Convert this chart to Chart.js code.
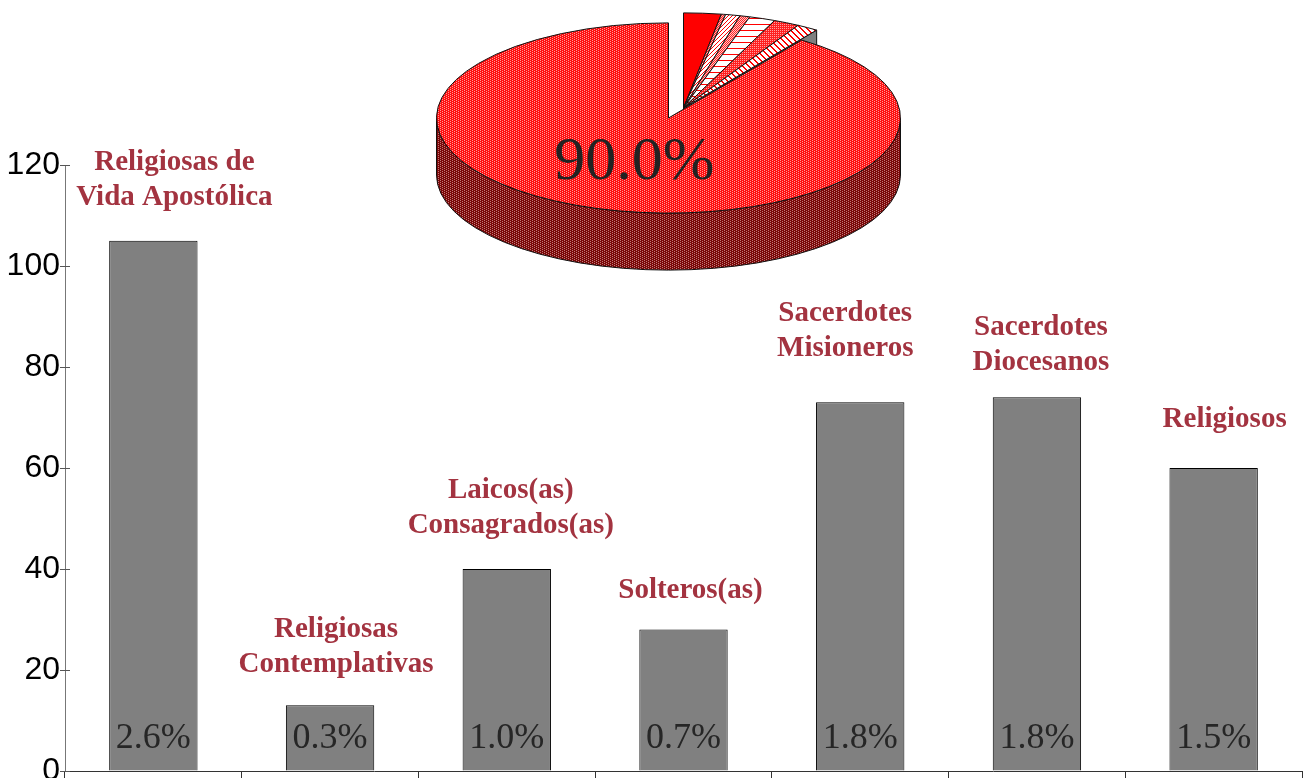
<!DOCTYPE html>
<html><head><meta charset="utf-8">
<script src="https://cdn.jsdelivr.net/npm/chart.js@4.4.1/dist/chart.umd.min.js"></script>
<style>
html,body{margin:0;padding:0;background:#fff;overflow:hidden}
#wrap{position:relative;width:1306px;height:778px}
#bars{position:absolute;left:0;top:0}
#pie{position:absolute;left:436px;top:0;pointer-events:none}
</style></head><body>
<div id="wrap"><canvas id="bars" width="1306" height="778"></canvas><canvas id="pie" width="465" height="465"></canvas></div>
<script>
// ---- data ----
const categories = [
  ['Religiosas de', 'Vida Apostólica'],
  ['Religiosas', 'Contemplativas'],
  ['Laicos(as)', 'Consagrados(as)'],
  ['Solteros(as)'],
  ['Sacerdotes', 'Misioneros'],
  ['Sacerdotes', 'Diocesanos'],
  ['Religiosos']
];
const counts = [105, 13, 40, 28, 73, 74, 60];
const percents = [2.6, 0.3, 1.0, 0.7, 1.8, 1.8, 1.5];
const otherPercent = 90.0;
const yTicks = [0, 20, 40, 60, 80, 100, 120];

// ---- layout / styles (label nudges relative to each bar, in px) ----
const labelNudgeX = [21, 6, 4, 7, -15, 4, 11];
const labelNudgeY = [-1, 2, -1, 3, -11, 8, -6];
const LABEL_COLOR = '#A33340';
const SERIF = '"Liberation Serif", "Times New Roman", serif';
const SANS = '"Liberation Sans", Arial, sans-serif';

function makePattern(w, h, draw) {
  const c = document.createElement('canvas');
  c.width = w; c.height = h;
  const g = c.getContext('2d');
  draw(g);
  return g.createPattern(c, 'repeat');
}
function px(g, col, pts) { g.fillStyle = col; pts.forEach(p => g.fillRect(p[0], p[1], 1, 1)); }

const patMainTop = makePattern(4, 4, g => {
  g.fillStyle = '#FF1010'; g.fillRect(0, 0, 4, 4);
  px(g, '#FF9A9A', [[0,0],[2,1],[0,2],[2,3]]);
});
const patMainSide = makePattern(4, 4, g => {
  g.fillStyle = '#7A0808'; g.fillRect(0, 0, 4, 4);
  px(g, '#C07878', [[0,0],[2,1],[0,2],[2,3]]);
});
const slicePatterns = [
  '#FF0000',
  makePattern(2, 2, g => { g.fillStyle = '#FFB0B0'; g.fillRect(0,0,2,2); px(g, '#FF2020', [[0,0],[1,1]]); }),
  makePattern(4, 4, g => { g.fillStyle = '#fff'; g.fillRect(0,0,4,4); px(g, '#FF0000', [[0,3],[1,2],[2,1],[3,0]]); }),
  makePattern(4, 4, g => { g.fillStyle = '#FFC8C8'; g.fillRect(0,0,4,4); px(g, '#FF2020', [[0,0],[1,1],[2,0],[3,1],[0,2],[2,2],[1,3],[3,3]]); }),
  makePattern(1, 6, g => { g.fillStyle = '#fff'; g.fillRect(0,0,1,6); px(g, '#FF0000', [[0,0]]); }),
  makePattern(2, 2, g => { g.fillStyle = '#FF2020'; g.fillRect(0,0,2,2); px(g, '#FFA0A0', [[0,0]]); }),
  makePattern(6, 6, g => { g.fillStyle = '#fff'; g.fillRect(0,0,6,6);
    px(g, '#FF0000', [[0,0],[1,0],[1,1],[2,1],[2,2],[3,2],[3,3],[4,3],[4,4],[5,4],[5,5],[0,5]]); })
];

// ---- bar chart ----
const barDecor = {
  id: 'barDecor',
  afterDraw(chart) {
    const ctx = chart.ctx;
    const ys = chart.scales.y;
    const meta = chart.getDatasetMeta(0);
    ctx.save();
    // inner halves of y tick marks
    ctx.strokeStyle = '#555'; ctx.lineWidth = 1;
    ys.ticks.forEach(t => {
      const y = Math.round(ys.getPixelForValue(t.value)) + 0.5;
      ctx.beginPath(); ctx.moveTo(chart.chartArea.left, y); ctx.lineTo(chart.chartArea.left + 5, y); ctx.stroke();
    });
    const base = ys.getPixelForValue(0);
    meta.data.forEach((bar, i) => {
      // percent inside bar
      ctx.font = '36px ' + SERIF;
      ctx.fillStyle = '#262626';
      ctx.textAlign = 'center'; ctx.textBaseline = 'alphabetic';
      ctx.fillText(percents[i].toFixed(1) + '%', bar.x, base - 23);
      // category label above bar
      const lines = categories[i];
      ctx.font = 'bold 29px ' + SERIF;
      ctx.fillStyle = LABEL_COLOR;
      lines.forEach((ln, k) => {
        const y = bar.y - 35 + labelNudgeY[i] - (lines.length - 1 - k) * 35;
        ctx.fillText(ln, bar.x + labelNudgeX[i], y);
      });
    });
    ctx.restore();
  }
};

new Chart(document.getElementById('bars'), {
  type: 'bar',
  data: {
    labels: categories,
    datasets: [{
      data: counts,
      backgroundColor: '#808080',
      borderColor: '#000',
      borderWidth: 1,
      borderSkipped: 'bottom',
      categoryPercentage: 1,
      barPercentage: 0.5
    }]
  },
  options: {
    responsive: false,
    animation: false,
    layout: { padding: { top: 165, right: 4, left: 0, bottom: 0 } },
    plugins: { legend: { display: false }, tooltip: { enabled: false } },
    scales: {
      x: {
        ticks: { display: false },
        grid: { drawOnChartArea: false, offset: true, tickLength: 7, color: '#333' },
        border: { color: '#333', width: 1 },
        afterFit(s) { s.height = 7; s.paddingLeft = 0; s.paddingRight = 0; }
      },
      y: {
        min: yTicks[0], max: yTicks[yTicks.length - 1],
        ticks: { stepSize: yTicks[1] - yTicks[0], font: { family: SANS, size: 32 }, color: '#000', padding: 0 },
        grid: { drawOnChartArea: false, tickLength: 5, color: '#555' },
        border: { color: '#777', width: 1 },
        afterFit(s) { s.width = 65; s.paddingTop = 0; s.paddingBottom = 0; }
      }
    }
  },
  plugins: [barDecor]
});

// ---- 3D pie ----
const K = 0.41, DEPTH = 57, TOP_CY = 118, EXPLODE = [15, -10];

function wedgePath(ctx, x, y, R, ry, s, e) {
  ctx.beginPath(); ctx.moveTo(x, y); ctx.ellipse(x, y, R, ry, 0, s, e, false); ctx.closePath();
}
function rimPath(ctx, x, y, R, ry, s, e) {
  for (let k = -1; k <= 1; k++) {
    const lo = Math.max(s, k * 2 * Math.PI), hi = Math.min(e, k * 2 * Math.PI + Math.PI);
    if (hi <= lo) continue;
    ctx.beginPath();
    ctx.moveTo(x + R * Math.cos(lo), y + ry * Math.sin(lo));
    ctx.ellipse(x, y, R, ry, 0, lo, hi, false);
    ctx.lineTo(x + R * Math.cos(hi), y + ry * Math.sin(hi) + DEPTH);
    ctx.ellipse(x, y + DEPTH, R, ry, 0, hi, lo, true);
    ctx.closePath();
    return true;
  }
  return false;
}

const pie3d = {
  id: 'pie3d',
  beforeDatasetsDraw(chart) {
    const ctx = chart.ctx;
    const arcs = chart.getDatasetMeta(0).data;
    const main = arcs[arcs.length - 1];
    const small = arcs.slice(0, -1);
    const R = main.outerRadius, ry = R * K;
    const cx = main.x, cy = TOP_CY;
    const gx = cx + EXPLODE[0], gy = cy + EXPLODE[1];
    ctx.save();
    ctx.lineWidth = 1; ctx.strokeStyle = '#111'; ctx.lineJoin = 'round';
    // exploded group end face
    const e = small[small.length - 1].endAngle;
    const ex = gx + R * Math.cos(e), ey = gy + ry * Math.sin(e);
    ctx.beginPath(); ctx.moveTo(gx, gy); ctx.lineTo(ex, ey); ctx.lineTo(ex, ey + DEPTH); ctx.lineTo(gx, gy + DEPTH); ctx.closePath();
    ctx.fillStyle = '#7f7f7f'; ctx.fill(); ctx.stroke();
    // exploded rims (if any face the viewer)
    small.forEach(a => {
      if (rimPath(ctx, gx, gy, R, ry, a.startAngle, a.endAngle)) { ctx.fillStyle = '#800000'; ctx.fill(); ctx.stroke(); }
    });
    // exploded tops
    small.forEach(a => {
      wedgePath(ctx, gx, gy, R, ry, a.startAngle, a.endAngle);
      ctx.fillStyle = a.options.backgroundColor; ctx.fill(); ctx.stroke();
    });
    // main slice side
    if (rimPath(ctx, cx, cy, R, ry, main.startAngle, main.endAngle)) {
      ctx.fillStyle = patMainSide; ctx.fill(); ctx.stroke();
    }
    // main top
    wedgePath(ctx, cx, cy, R, ry, main.startAngle, main.endAngle);
    ctx.fillStyle = main.options.backgroundColor; ctx.fill(); ctx.stroke();
    // main label
    const mid = (main.startAngle + main.endAngle) / 2;
    ctx.font = '62px ' + SERIF;
    ctx.fillStyle = '#222';
    ctx.textAlign = 'center'; ctx.textBaseline = 'middle';
    ctx.fillText(otherPercent.toFixed(1) + '%', cx + 0.49 * R * Math.cos(mid), cy + 0.49 * ry * Math.sin(mid));
    ctx.restore();
    return false;
  }
};

new Chart(document.getElementById('pie'), {
  type: 'pie',
  data: {
    labels: categories.map(c => c.join(' ')).concat(['Otros']),
    datasets: [{
      data: percents.concat([otherPercent]),
      backgroundColor: slicePatterns.concat([patMainTop]),
      borderColor: '#111',
      borderWidth: 1
    }]
  },
  options: {
    responsive: false,
    animation: false,
    layout: { padding: 0 },
    plugins: { legend: { display: false }, tooltip: { enabled: false } }
  },
  plugins: [pie3d]
});
</script>
</body></html>
